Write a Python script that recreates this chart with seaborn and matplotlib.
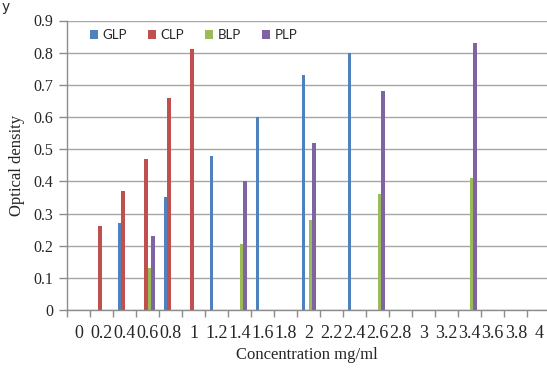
import numpy as np
import pandas as pd
import matplotlib
matplotlib.use("Agg")
import matplotlib.pyplot as plt
import seaborn as sns
from matplotlib.patches import Patch

# Concentration categories (mg/ml)
concentrations = ["0", "0.2", "0.4", "0.6", "0.8", "1", "1.2", "1.4", "1.6", "1.8", "2",
                  "2.2", "2.4", "2.6", "2.8", "3", "3.2", "3.4", "3.6", "3.8", "4"]

# Optical density per polysaccharide (None = not measured)
glp = [None, None, 0.27, None, 0.35, None, 0.48, None, 0.60, None, 0.73,
       None, 0.80, None, None, None, None, None, None, None, None]
clp = [None, 0.26, 0.37, 0.47, 0.66, 0.81, None, None, None, None, None,
       None, None, None, None, None, None, None, None, None, None]
blp = [None, None, None, 0.13, None, None, None, 0.205, None, None, 0.28,
       None, None, 0.36, None, None, None, 0.41, None, None, None]
plp = [None, None, None, 0.23, None, None, None, 0.40, None, None, 0.52,
       None, None, 0.68, None, None, None, 0.83, None, None, None]

series_names = ["GLP", "CLP", "BLP", "PLP"]
series_colors = ["#4F81BD", "#C0504D", "#9BBB59", "#8064A2"]
yticks = [0, 0.1, 0.2, 0.3, 0.4, 0.5, 0.6, 0.7, 0.8, 0.9]

rows = []
for name, vals in zip(series_names, [glp, clp, blp, plp]):
    for c, v in zip(concentrations, vals):
        rows.append({"conc": c, "series": name, "od": np.nan if v is None else v})
df = pd.DataFrame(rows)

sns.set_theme(style="white")
plt.rcParams["font.family"] = ["Liberation Serif", "DejaVu Serif"]

fig = plt.figure(figsize=(5.47, 3.69), dpi=100)
ax = fig.add_axes([67.3 / 547, 1 - 310 / 369, 483 / 547, (310 - 20.5) / 369])

sns.barplot(data=df, x="conc", y="od", hue="series", order=concentrations,
            hue_order=series_names, palette=series_colors, width=0.61,
            dodge=True, saturation=1, errorbar=None, ax=ax, legend=False,
            linewidth=0)

ax.set_xlim(-0.5, len(concentrations) - 0.5)
ax.set_ylim(0, 0.9)
ax.set_yticks(yticks)
ax.set_yticklabels(["0" if t == 0 else f"{t:.1f}" for t in yticks], fontsize=11.5)
ax.yaxis.grid(True, color="#a6a6a6", linewidth=1.0)
ax.set_axisbelow(True)

# category labels without tick marks, boundary tick marks below the axis
ax.set_xticks(range(len(concentrations)))
ax.set_xticklabels(concentrations, fontsize=13)
ax.tick_params(axis="x", which="major", length=0, pad=11)
ax.set_xticks(np.arange(-0.5, len(concentrations), 1.0), minor=True)
ax.tick_params(axis="x", which="minor", bottom=True, length=5, color="#8c8c8c", width=1)
ax.tick_params(axis="y", left=True, length=6, color="#8c8c8c", width=1, pad=4)

for side in ["top", "right"]:
    ax.spines[side].set_visible(False)
for side in ["left", "bottom"]:
    ax.spines[side].set_color("#8c8c8c")
    ax.spines[side].set_linewidth(1.0)

ax.set_xlabel("")
ax.set_ylabel("Optical density", fontsize=12, labelpad=6)
fig.text(307 / 547, 1 - 355 / 369, "Concentration mg/ml", ha="center", va="center",
         fontsize=12)

# legend along the top of the plot area
handles = [Patch(facecolor=c, edgecolor="none") for c in series_colors]
leg = fig.legend(handles, series_names, loc="center left",
                 bbox_to_anchor=(78 / 547, 1 - 35 / 369), ncol=4, frameon=False,
                 handlelength=0.6, handleheight=0.6, handletextpad=0.35,
                 columnspacing=1.6, prop={"family": "Lato", "size": 9.5})

fig.text(2 / 547, 1.0, "y", ha="left", va="top", fontsize=10,
         family=["DejaVu Sans"])

fig.savefig("out.png", dpi=100)
